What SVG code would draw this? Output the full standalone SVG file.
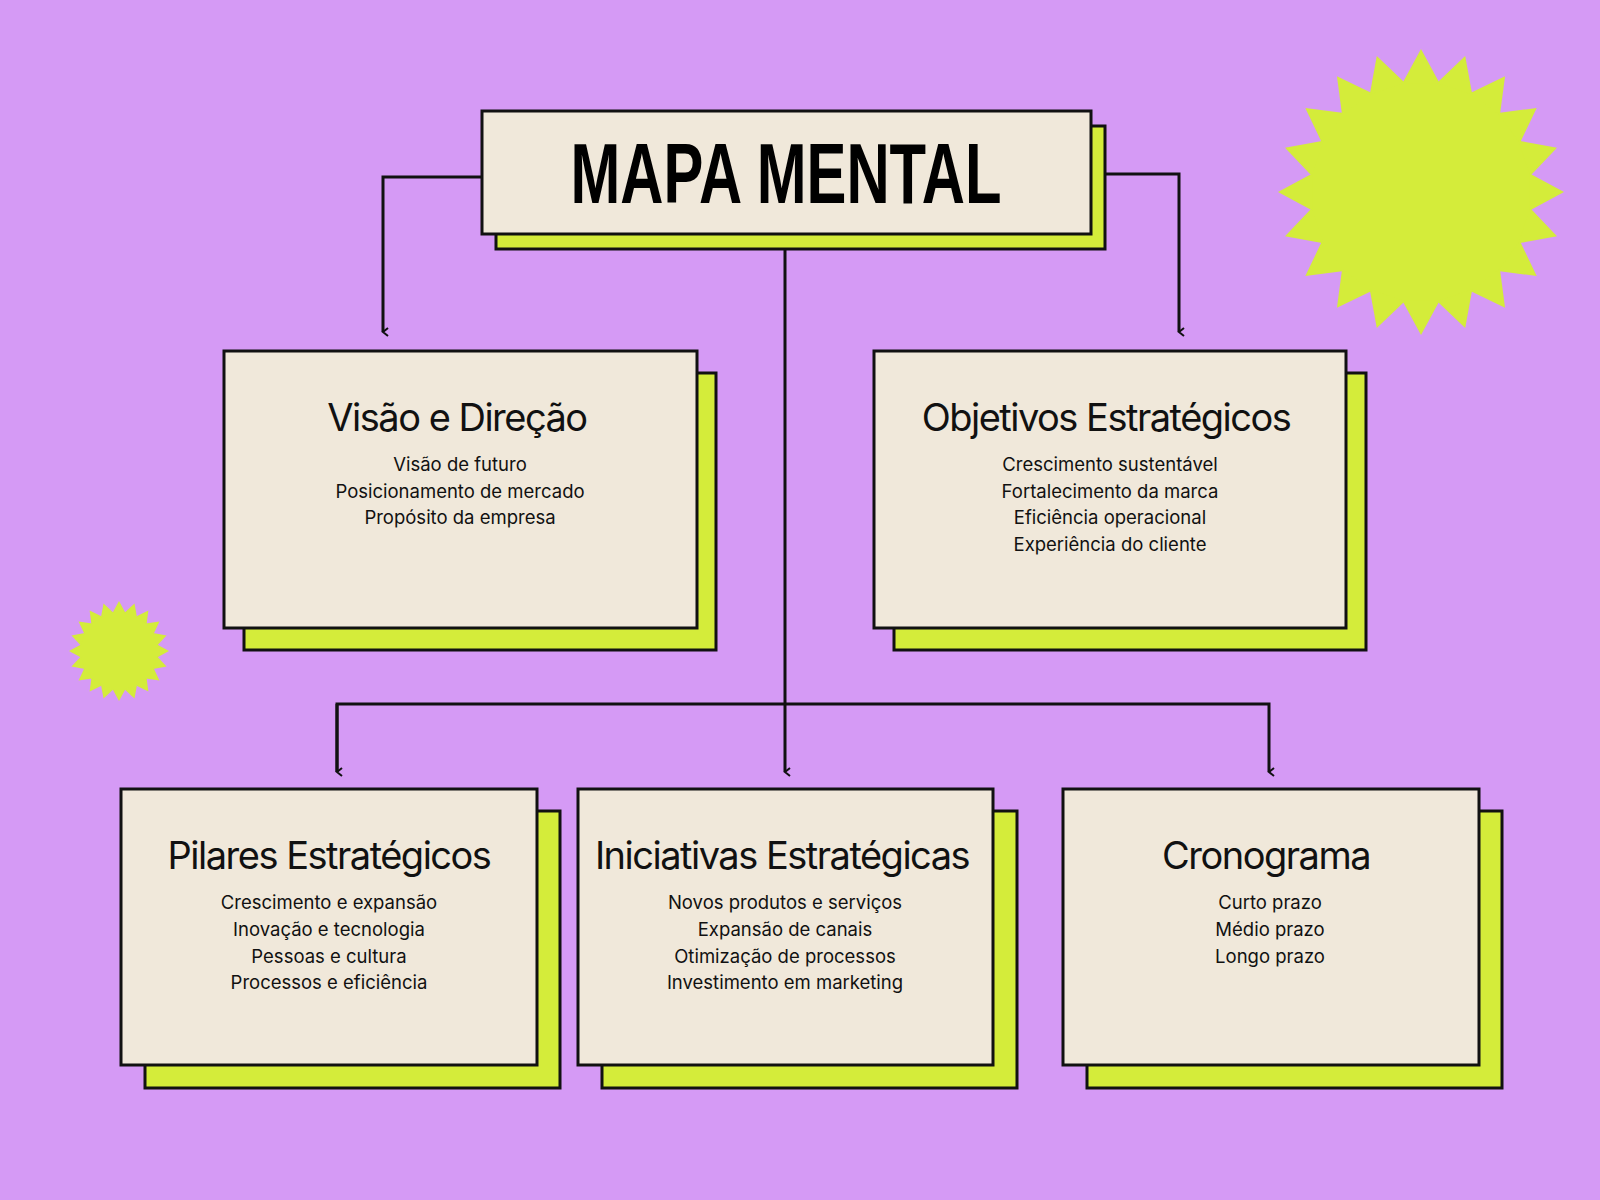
<svg xmlns="http://www.w3.org/2000/svg" width="1600" height="1200" viewBox="0 0 1600 1200">
<style>
.box{fill:#f0e8da;stroke:#111;stroke-width:3}
.sh{fill:#d4ec3a;stroke:#111;stroke-width:3}
.h{font-family:Inter,"Noto Sans",sans-serif;font-size:38px;letter-spacing:-1.5px;text-anchor:middle;fill:#111}
.i{font-family:Inter,"Noto Sans",sans-serif;font-size:18.5px;text-anchor:middle;fill:#111}
.c{fill:none;stroke:#111;stroke-width:3}
</style>
<defs>
<marker id="a" markerWidth="10" markerHeight="10" refX="5" refY="8" orient="auto" markerUnits="userSpaceOnUse" viewBox="0 0 10 10"><path d="M1,3 L5,8 L9,3" fill="none" stroke="#111" stroke-width="2"/></marker>
<g id="star" fill="#d4ec3a">
<circle r="0.78"/>
<polygon id="sp" points="0,-1 0.13,-0.76 -0.13,-0.76"/>
<use href="#sp" transform="rotate(18)"/><use href="#sp" transform="rotate(36)"/><use href="#sp" transform="rotate(54)"/><use href="#sp" transform="rotate(72)"/><use href="#sp" transform="rotate(90)"/><use href="#sp" transform="rotate(108)"/><use href="#sp" transform="rotate(126)"/><use href="#sp" transform="rotate(144)"/><use href="#sp" transform="rotate(162)"/><use href="#sp" transform="rotate(180)"/><use href="#sp" transform="rotate(198)"/><use href="#sp" transform="rotate(216)"/><use href="#sp" transform="rotate(234)"/><use href="#sp" transform="rotate(252)"/><use href="#sp" transform="rotate(270)"/><use href="#sp" transform="rotate(288)"/><use href="#sp" transform="rotate(306)"/><use href="#sp" transform="rotate(324)"/><use href="#sp" transform="rotate(342)"/>
</g>
</defs>
<rect width="1600" height="1200" fill="#d59af5"/>
<use href="#star" transform="translate(1421,192) scale(143)"/>
<use href="#star" transform="translate(119,651) scale(50)"/>
<g id="connectors">
<polyline class="c" points="482,177 383,177 383,332" marker-end="url(#a)"/>
<polyline class="c" points="1105,174 1179,174 1179,332" marker-end="url(#a)"/>
<polyline class="c" points="785,249 785,772" marker-end="url(#a)"/>
<polyline class="c" points="337,772 337,704 1269,704 1269,772" marker-end="url(#a)"/>
<path class="c" d="M337,704 L337,772" marker-end="url(#a)"/>
</g>
<g id="title">
<rect class="sh" x="496" y="126" width="609" height="123"/>
<rect class="box" x="482" y="111" width="609" height="123"/>
<text x="786" y="203" font-family="'Liberation Sans',sans-serif" font-weight="bold" font-size="86" text-anchor="middle" textLength="431" lengthAdjust="spacingAndGlyphs" fill="#000">MAPA MENTAL</text>
</g>
<g id="visao">
<rect class="sh" x="244" y="373" width="472" height="277"/>
<rect class="box" x="224" y="351" width="473" height="277"/>
<text class="h" x="457" y="431">Visão e Direção</text>
<text class="i" x="460" y="471">Visão de futuro</text>
<text class="i" x="460" y="498">Posicionamento de mercado</text>
<text class="i" x="460" y="524">Propósito da empresa</text>
</g>
<g id="objetivos">
<rect class="sh" x="894" y="373" width="472" height="277"/>
<rect class="box" x="874" y="351" width="472" height="277"/>
<text class="h" x="1106" y="431">Objetivos Estratégicos</text>
<text class="i" x="1110" y="471">Crescimento sustentável</text>
<text class="i" x="1110" y="498">Fortalecimento da marca</text>
<text class="i" x="1110" y="524">Eficiência operacional</text>
<text class="i" x="1110" y="551">Experiência do cliente</text>
</g>
<g id="pilares">
<rect class="sh" x="145" y="811" width="415" height="277"/>
<rect class="box" x="121" y="789" width="416" height="276"/>
<text class="h" x="329" y="869">Pilares Estratégicos</text>
<text class="i" x="329" y="909">Crescimento e expansão</text>
<text class="i" x="329" y="936">Inovação e tecnologia</text>
<text class="i" x="329" y="963">Pessoas e cultura</text>
<text class="i" x="329" y="989">Processos e eficiência</text>
</g>
<g id="iniciativas">
<rect class="sh" x="602" y="811" width="415" height="277"/>
<rect class="box" x="578" y="789" width="415" height="276"/>
<text class="h" x="782" y="869">Iniciativas Estratégicas</text>
<text class="i" x="785" y="909">Novos produtos e serviços</text>
<text class="i" x="785" y="936">Expansão de canais</text>
<text class="i" x="785" y="963">Otimização de processos</text>
<text class="i" x="785" y="989">Investimento em marketing</text>
</g>
<g id="cronograma">
<rect class="sh" x="1087" y="811" width="415" height="277"/>
<rect class="box" x="1063" y="789" width="416" height="276"/>
<text class="h" x="1266" y="869">Cronograma</text>
<text class="i" x="1270" y="909">Curto prazo</text>
<text class="i" x="1270" y="936">Médio prazo</text>
<text class="i" x="1270" y="963">Longo prazo</text>
</g>
</svg>
